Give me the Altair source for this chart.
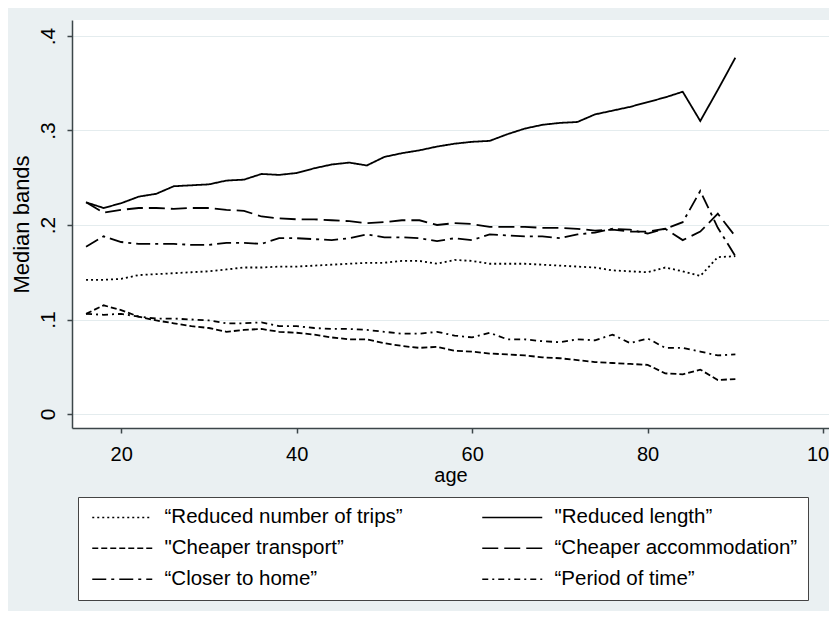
import altair as alt
import pandas as pd

ages = list(range(16, 91, 2))

lab_trips = "“Reduced number of trips”"
lab_length = "\"Reduced length”"
lab_transport = "\"Cheaper transport”"
lab_accom = "“Cheaper accommodation”"
lab_closer = "“Closer to home”"
lab_period = "“Period of time”"

trips = [.142, .142, .143, .147, .148, .149, .150, .151, .153, .155, .155, .156, .156,
         .157, .158, .159, .160, .160, .162, .162, .159, .163, .162, .159, .159, .159,
         .158, .157, .156, .155, .152, .151, .150, .155, .151, .146, .166, .167]
length = [.224, .218, .223, .230, .233, .241, .242, .243, .247, .248, .254, .253, .255,
          .260, .264, .266, .263, .272, .276, .279, .283, .286, .288, .289, .296, .302,
          .306, .308, .309, .317, .321, .325, .330, .335, .341, .310, .343, .377]
transport = [.106, .115, .110, .103, .099, .096, .093, .091, .087, .089, .090, .087, .086,
             .084, .081, .079, .079, .075, .072, .070, .071, .067, .066, .064, .063, .062,
             .060, .059, .057, .055, .054, .053, .052, .043, .042, .047, .036, .037]
accommodation = [.224, .213, .216, .218, .218, .217, .218, .218, .216, .215, .209, .207, .206,
                 .206, .205, .204, .202, .203, .205, .205, .200, .202, .201, .198, .198, .198,
                 .197, .197, .196, .194, .195, .193, .193, .196, .184, .193, .212, .188]
closer = [.177, .188, .182, .180, .180, .180, .179, .179, .181, .181, .180, .186, .186,
          .185, .184, .186, .190, .187, .187, .186, .183, .186, .184, .190, .189, .188,
          .188, .186, .190, .192, .196, .195, .191, .196, .203, .236, .197, .167]
period = [.106, .105, .106, .103, .101, .101, .100, .099, .096, .096, .097, .093, .093,
          .091, .090, .090, .089, .087, .085, .085, .087, .083, .081, .086, .079, .079,
          .077, .076, .079, .078, .084, .075, .080, .070, .070, .066, .062, .063]

x_ticks = [20, 40, 60, 80, 100]
y_ticks = [0, 0.1, 0.2, 0.3, 0.4]

# legend is filled column by column (3 rows x 2 columns)
legend_order = [lab_trips, lab_transport, lab_closer, lab_length, lab_accom, lab_period]
dash_for = {
    lab_trips: [2, 3],
    lab_length: [1, 0],
    lab_transport: [6, 3],
    lab_accom: [16, 6],
    lab_closer: [14, 5, 3, 5],
    lab_period: [6, 4, 2, 4],
}

series = {lab_trips: trips, lab_length: length, lab_transport: transport,
          lab_accom: accommodation, lab_closer: closer, lab_period: period}
rows = []
for lab, vals in series.items():
    for a, v in zip(ages, vals):
        rows.append({"age": a, "value": v, "series": lab})
df = pd.DataFrame(rows)

FONT = "Liberation Sans, Arial, Helvetica"
AXC = "#3c4649"

chart = alt.Chart(df).mark_line(color="black", strokeWidth=1.8).encode(
    x=alt.X("age:Q",
            scale=alt.Scale(domain=[14.4, 100.67], nice=False, zero=False),
            axis=alt.Axis(values=x_ticks, title="age", grid=False,
                          domainColor=AXC, domainWidth=1.5, tickColor=AXC,
                          tickWidth=1.5, tickSize=5, labelPadding=11,
                          labelFont=FONT, labelFontSize=20, labelColor="black",
                          titleFont=FONT, titleFontSize=20, titleFontWeight="normal",
                          titleColor="black", titlePadding=1)),
    y=alt.Y("value:Q",
            scale=alt.Scale(domain=[-0.0148, 0.4169], nice=False, zero=False),
            axis=alt.Axis(values=y_ticks, title="Median bands", grid=True,
                          gridColor="#E4ECEE", gridWidth=1.2,
                          labelExpr="datum.value == 0 ? '0' : replace(format(datum.value, '.1f'), '0.', '.')",
                          labelAngle=270, labelAlign="center", labelBaseline="bottom",
                          domainColor=AXC, domainWidth=1.5, tickColor=AXC,
                          tickWidth=1.5, tickSize=5, labelPadding=9,
                          labelFont=FONT, labelFontSize=21, labelColor="black",
                          titleFont=FONT, titleFontSize=22, titleFontWeight="normal",
                          titleColor="black", titlePadding=4)),
    strokeDash=alt.StrokeDash("series:N", sort=legend_order,
                              scale=alt.Scale(domain=legend_order,
                                              range=[dash_for[l] for l in legend_order]),
                              legend=alt.Legend(orient="none", legendX=6, legendY=477,
                                                columns=2, title=None,
                                                symbolType="M-1,0L9,0", symbolSize=144,
                                                symbolStrokeColor="black",
                                                symbolFillColor="transparent",
                                                symbolStrokeWidth=1.5,
                                                labelFont=FONT, labelFontSize=20.5,
                                                labelColor="black", labelLimit=500,
                                                labelOffset=56, rowPadding=10,
                                                columnPadding=75, padding=10,
                                                strokeColor="#444", fillColor="white")),
).properties(
    width=757, height=408,
    autosize=alt.AutoSizeParams(type="none"),
    padding={"left": 64, "top": 12, "right": 0, "bottom": 183},
    background="#EAF0F2",
).configure_view(fill="white", stroke=None)

chart.save("out.html", embed_options={"renderer": "svg", "actions": False})
